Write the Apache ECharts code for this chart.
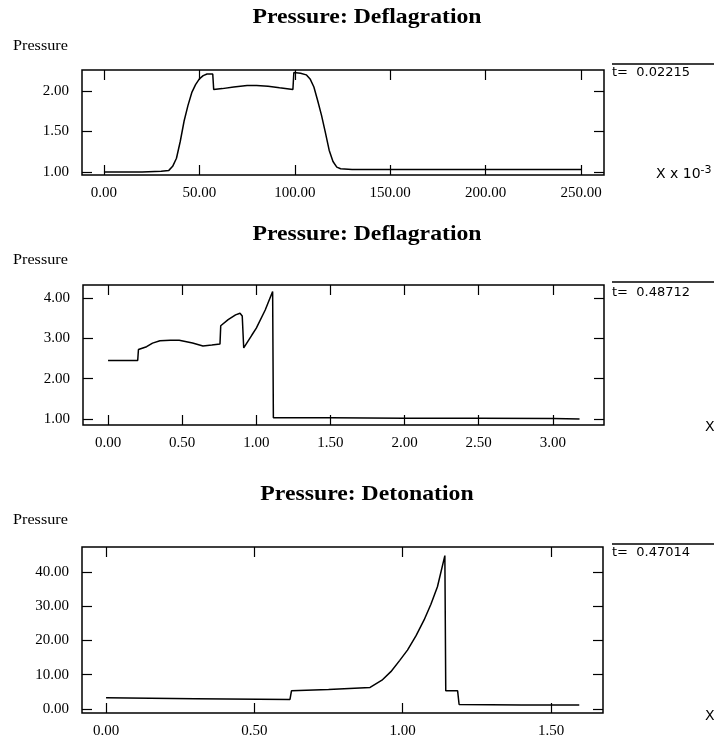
<!DOCTYPE html>
<html>
<head>
<meta charset="utf-8">
<script src="https://cdn.jsdelivr.net/npm/echarts@6/dist/echarts.min.js"></script>
<style>
html,body{margin:0;padding:0;background:#fff;}
#chart{width:714px;height:740px;}
</style>
</head>
<body>
<div id="chart"></div>
<script>
// panel 1: deflagration, t = 0.02215 (x in units of 10^-3)
var x1 = [0, 10, 20, 30, 34, 36, 38, 40, 42, 44, 46, 48, 50, 52, 54, 57, 57.5, 62, 68, 75,
          80, 86, 92, 99, 99.5, 103, 106, 108, 110, 112, 114, 116, 118, 120, 122, 124, 130, 150, 200, 250];
var y1 = [1.00, 1.00, 1.00, 1.01, 1.02, 1.07, 1.17, 1.38, 1.63, 1.82, 1.98, 2.08, 2.15, 2.19, 2.21, 2.21, 2.02, 2.03, 2.05, 2.07,
          2.07, 2.06, 2.04, 2.02, 2.23, 2.22, 2.20, 2.15, 2.05, 1.88, 1.70, 1.49, 1.27, 1.13, 1.06, 1.04, 1.03, 1.03, 1.03, 1.03];
// panel 2: deflagration, t = 0.48712
var x2 = [0, 0.20, 0.205, 0.26, 0.30, 0.35, 0.42, 0.48, 0.57, 0.64, 0.70, 0.755, 0.76, 0.81,
          0.86, 0.89, 0.905, 0.915, 0.97, 1.00, 1.06, 1.11, 1.115, 1.50, 2.00, 2.50, 3.00, 3.18];
var y2 = [2.45, 2.45, 2.72, 2.79, 2.88, 2.94, 2.95, 2.95, 2.88, 2.81, 2.83, 2.86, 3.31, 3.46,
          3.58, 3.62, 3.55, 2.76, 3.08, 3.25, 3.70, 4.16, 1.03, 1.03, 1.02, 1.02, 1.01, 1.00];
// panel 3: detonation, t = 0.47014
var x3 = [0, 0.30, 0.62, 0.625, 0.75, 0.89, 0.93, 0.96, 0.99, 1.016, 1.045, 1.072, 1.095, 1.117, 1.142, 1.145, 1.185, 1.19, 1.40, 1.595];
var y3 = [3.3, 3.0, 2.8, 5.3, 5.7, 6.3, 8.4, 10.9, 14.2, 17.2, 21.4, 26.0, 30.6, 35.7, 44.8, 5.3, 5.3, 1.3, 1.2, 1.2];

var xTicks1 = [0, 50, 100, 150, 200, 250];
var yTicks1 = [1, 1.5, 2];
var xTicks2 = [0, 0.5, 1, 1.5, 2, 2.5, 3];
var yTicks2 = [1, 2, 3, 4];
var xTicks3 = [0, 0.5, 1, 1.5];
var yTicks3 = [0, 10, 20, 30, 40];

var titles = ['Pressure: Deflagration', 'Pressure: Deflagration', 'Pressure: Detonation'];
var times = ['t=  0.02215', 't=  0.48712', 't=  0.47014'];

var FONT = '"Liberation Serif", "DejaVu Serif", serif';
var SANS = '"DejaVu Sans", "Liberation Sans", sans-serif';

function pairs(xs, ys) {
    var out = [];
    for (var i = 0; i < xs.length; i++) out.push([xs[i], ys[i]]);
    return out;
}
function fmt(v) { return Number(v).toFixed(2); }

var panels = [
    { xs: x1, ys: y1, xt: xTicks1, yt: yTicks1, xmin: -11.5, xmax: 262, ymin: 0.963, ymax: 2.26, top: 70, height: 105, left: 82, right: 110 },
    { xs: x2, ys: y2, xt: xTicks2, yt: yTicks2, xmin: -0.169, xmax: 3.345, ymin: 0.85, ymax: 4.32, top: 285, height: 140, left: 83, right: 110 },
    { xs: x3, ys: y3, xt: xTicks3, yt: yTicks3, xmin: -0.081, xmax: 1.675, ymin: -1.17, ymax: 47.3, top: 547, height: 166, left: 82, right: 111 }
];

var grid = [], xAxis = [], yAxis = [], series = [];
panels.forEach(function (p, i) {
    grid.push({ left: p.left, right: p.right, top: p.top, height: p.height, show: true, borderColor: '#000', borderWidth: 1.5, containLabel: false });
    var tick = { show: true, inside: true, length: 10, lineStyle: { color: '#000', width: 1.2 } };
    var line = { show: false, onZero: false };
    xAxis.push({
        type: 'value', gridIndex: i, position: 'bottom', min: p.xmin, max: p.xmax,
        axisLine: line, splitLine: { show: false },
        axisTick: Object.assign({ customValues: p.xt }, tick),
        axisLabel: { customValues: p.xt, formatter: fmt, color: '#000', fontFamily: FONT, fontSize: 15, margin: 11 }
    });
    xAxis.push({
        type: 'value', gridIndex: i, position: 'top', min: p.xmin, max: p.xmax,
        axisLine: line, splitLine: { show: false },
        axisTick: Object.assign({ customValues: p.xt }, tick),
        axisLabel: { show: false }
    });
    yAxis.push({
        type: 'value', gridIndex: i, position: 'left', min: p.ymin, max: p.ymax,
        axisLine: line, splitLine: { show: false },
        axisTick: Object.assign({ customValues: p.yt }, tick),
        axisLabel: { customValues: p.yt, formatter: fmt, color: '#000', fontFamily: FONT, fontSize: 15, margin: 13 }
    });
    yAxis.push({
        type: 'value', gridIndex: i, position: 'right', min: p.ymin, max: p.ymax,
        axisLine: line, splitLine: { show: false },
        axisTick: Object.assign({ customValues: p.yt }, tick),
        axisLabel: { show: false }
    });
    series.push({
        type: 'line', xAxisIndex: i * 2, yAxisIndex: i * 2, data: pairs(p.xs, p.ys),
        showSymbol: false, animation: false,
        lineStyle: { color: '#000', width: 1.5 }
    });
});

var titleY = [18, 235, 495];
var labelY = [46, 260, 520];
var timeY = [73, 293, 553];
var lineY = [64, 282, 544];
var graphic = [];
for (var i = 0; i < 3; i++) {
    graphic.push({ type: 'text', x: 367, y: titleY[i], scaleX: 1.13, style: { text: titles[i], font: 'bold 21px ' + FONT, fill: '#000', x: 0, y: 0, align: 'center', verticalAlign: 'middle' } });
    graphic.push({ type: 'text', x: 13, y: labelY[i], scaleX: 1.08, style: { text: 'Pressure', font: '15px ' + FONT, fill: '#000', x: 0, y: 0, verticalAlign: 'middle' } });
    graphic.push({ type: 'text', style: { text: times[i], font: '13px ' + SANS, fill: '#000', x: 612, y: timeY[i], verticalAlign: 'middle' } });
    graphic.push({ type: 'line', shape: { x1: 612, y1: lineY[i], x2: 714, y2: lineY[i] }, style: { stroke: '#000', lineWidth: 1.5 } });
}
graphic.push({
    type: 'text',
    style: {
        text: '{a|X x 10}{s|-3}', x: 656, y: 174, verticalAlign: 'middle',
        rich: { a: { font: '14px ' + SANS, fill: '#000' }, s: { font: '11px ' + SANS, fill: '#000', verticalAlign: 'top', padding: [0, 0, 8, 0] } }
    }
});
graphic.push({ type: 'text', style: { text: 'X', font: '14px ' + SANS, fill: '#000', x: 705, y: 427, verticalAlign: 'middle' } });
graphic.push({ type: 'text', style: { text: 'X', font: '14px ' + SANS, fill: '#000', x: 705, y: 716, verticalAlign: 'middle' } });

var myChart = echarts.init(document.getElementById('chart'));
var option = {
    backgroundColor: '#fff',
    animation: false,
    grid: grid,
    xAxis: xAxis,
    yAxis: yAxis,
    series: series,
    graphic: graphic
};
myChart.setOption(option, true);
</script>
</body>
</html>
